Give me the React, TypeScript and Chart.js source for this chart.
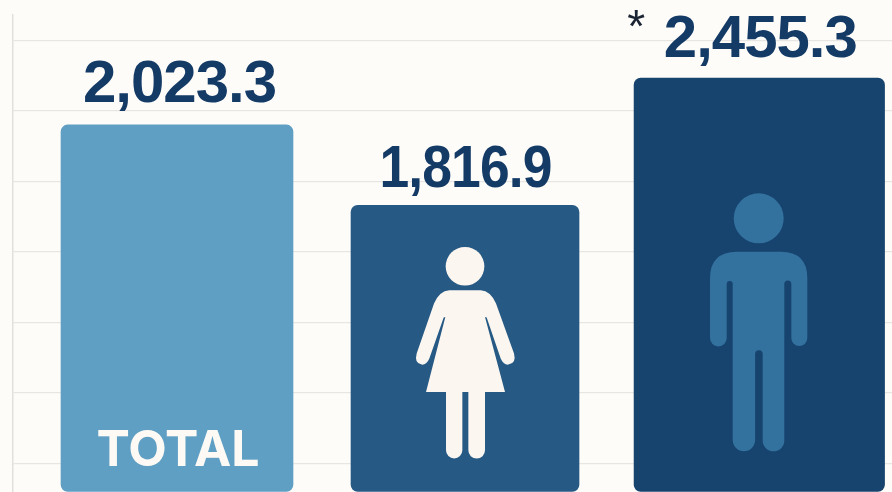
import React, { useEffect, useRef } from "react";
import { Chart, registerables } from "chart.js";

Chart.register(...registerables);

// Values as printed above each bar.
const categories = ["Total", "Women", "Men"];
const valueLabels = ["2,023.3", "1,816.9", "2,455.3"];
// Bar heights (grid step = 100 units). The picture is not drawn to the printed values.
const barHeights = [480, 366, 546.5];
const insideLabel = "TOTAL";
const noteMark = "*";
const gridValues = [0, 100, 200, 300, 400, 500, 600];

// Styles and layout
const BG = "#FEFCF9";
const barColors = ["#5F9FC3", "#265A85", "#17446E"];
const barWidths = [232, 228, 250.5];
const barNudge = [0, -3, 0.3];
const labelDx = [2.5, 0.5, 1];
const labelDy = [23, 18, 21];
const labelMaxWidth = [194, 172, 193];
const LABEL_COLOR = "#143A66";

const figure = (ctx: CanvasRenderingContext2D, x: number, y: number, draw: () => void) => {
  ctx.save();
  ctx.translate(x, y);
  draw();
  ctx.restore();
};

const drawWoman = (ctx: CanvasRenderingContext2D) => {
  // coordinates in 1/3 px, relative to an origin at the bar's top centre
  ctx.scale(1 / 3, 1 / 3);
  ctx.translate(-375, -45);
  ctx.fillStyle = "#FBF6F0";
  ctx.beginPath();
  ctx.arc(375, 228, 58, 0, Math.PI * 2);
  ctx.fill();
  ctx.beginPath();
  ctx.moveTo(328, 300);
  ctx.lineTo(422, 300);
  ctx.quadraticCurveTo(452, 302, 468, 340);
  ctx.lineTo(522, 490);
  ctx.quadraticCurveTo(530, 520, 505, 523);
  ctx.quadraticCurveTo(490, 524, 482, 505);
  ctx.lineTo(440, 382);
  ctx.lineTo(435, 380);
  ctx.lineTo(495, 605);
  ctx.lineTo(435, 605);
  ctx.lineTo(435, 775);
  ctx.arc(410, 780, 25, 0, Math.PI);
  ctx.lineTo(385, 605);
  ctx.lineTo(367, 605);
  ctx.lineTo(367, 780);
  ctx.arc(342.5, 780, 24.5, 0, Math.PI);
  ctx.lineTo(318, 605);
  ctx.lineTo(258, 605);
  ctx.lineTo(316, 380);
  ctx.lineTo(311, 382);
  ctx.lineTo(268, 505);
  ctx.quadraticCurveTo(260, 524, 245, 523);
  ctx.quadraticCurveTo(222, 520, 230, 490);
  ctx.lineTo(282, 340);
  ctx.quadraticCurveTo(298, 302, 328, 300);
  ctx.closePath();
  ctx.fill();
};

const drawMan = (ctx: CanvasRenderingContext2D) => {
  // coordinates in px relative to the bar's top centre
  ctx.translate(-759.3, -78);
  ctx.fillStyle = "#33719F";
  ctx.beginPath();
  ctx.arc(758.7, 218.3, 25, 0, Math.PI * 2);
  ctx.fill();
  ctx.beginPath();
  ctx.moveTo(737, 251.7);
  ctx.lineTo(781, 251.7);
  ctx.quadraticCurveTo(807.3, 252, 807.3, 278);
  ctx.lineTo(807.3, 337);
  ctx.arc(799.3, 338, 8, 0, Math.PI);
  ctx.lineTo(791.3, 284);
  ctx.arc(787.8, 284, 3.5, 0, Math.PI, true);
  ctx.lineTo(784.3, 440);
  ctx.arc(773.5, 440.5, 10.8, 0, Math.PI);
  ctx.lineTo(762.7, 354);
  ctx.arc(758.9, 354, 3.8, 0, Math.PI, true);
  ctx.lineTo(755.1, 440);
  ctx.arc(743.9, 440, 11.2, 0, Math.PI);
  ctx.lineTo(732.7, 284);
  ctx.arc(729.7, 284, 3, 0, Math.PI, true);
  ctx.lineTo(726.7, 338);
  ctx.arc(718.35, 338, 8.35, 0, Math.PI);
  ctx.lineTo(710, 278);
  ctx.quadraticCurveTo(710, 252, 737, 251.7);
  ctx.closePath();
  ctx.fill();
};

const decorPlugin = {
  id: "decor",
  afterDatasetsUpdate(chart: any) {
    chart.data.datasets.forEach((_: any, i: number) => {
      const el = chart.getDatasetMeta(i).data[0];
      if (el) el.x += barNudge[i];
    });
  },
  afterDatasetsDraw(chart: any) {
    const ctx: CanvasRenderingContext2D = chart.ctx;
    const els = chart.data.datasets.map((_: any, i: number) => chart.getDatasetMeta(i).data[0]);
    ctx.save();
    ctx.textAlign = "center";
    ctx.textBaseline = "alphabetic";
    ctx.font = "700 60px 'Liberation Sans'";
    (ctx as any).letterSpacing = "-1px";
    ctx.fillStyle = LABEL_COLOR;
    valueLabels.forEach((t, i) => {
      ctx.fillText(t, els[i].x + labelDx[i], els[i].y - labelDy[i], labelMaxWidth[i]);
    });
    (ctx as any).letterSpacing = "0px";
    ctx.font = "400 46px 'Liberation Sans'";
    ctx.fillStyle = "#1A2433";
    ctx.fillText(noteMark, els[2].x - 123, els[2].y - 36);
    ctx.font = "700 50px Inter";
    ctx.fillStyle = "#FDFAF5";
    ctx.fillText(insideLabel, els[0].x + 1, 466);
    figure(ctx, els[1].x, els[1].y, () => drawWoman(ctx));
    figure(ctx, els[2].x, els[2].y, () => drawMan(ctx));
    ctx.restore();
  },
};

export default function App() {
  const ref = useRef<HTMLCanvasElement>(null);
  useEffect(() => {
    const chart = new Chart(ref.current!, {
      type: "bar",
      data: {
        datasets: categories.map((label, i) => ({
          label,
          data: [{ x: i, y: barHeights[i] }],
          backgroundColor: barColors[i],
          barThickness: barWidths[i],
          borderRadius: 7,
          borderSkipped: false,
          base: -40,
          grouped: false,
        })),
      },
      options: {
        animation: false,
        responsive: false,
        layout: { padding: { left: 13, top: 15, right: 0, bottom: 0 } },
        plugins: { legend: { display: false }, tooltip: { enabled: false } },
        scales: {
          x: { type: "linear", display: false, offset: false, min: -0.5636, max: 2.457 },
          y: {
            min: -40.7,
            max: 635.9,
            afterBuildTicks: (axis: any) => {
              axis.ticks = gridValues.map((value) => ({ value }));
            },
            ticks: { display: false },
            grid: { color: "#E8E6E2", lineWidth: 1.2, drawTicks: false },
            border: { display: true, color: "#E2E0DC", width: 1.5 },
          },
        },
      },
      plugins: [decorPlugin],
    } as any);
    return () => chart.destroy();
  }, []);
  return (
    <div style={{ position: "absolute", left: 0, top: 0, width: 892, height: 492, background: BG, overflow: "hidden" }}>
      <canvas ref={ref} width={892} height={492} style={{ display: "block" }} />
    </div>
  );
}
